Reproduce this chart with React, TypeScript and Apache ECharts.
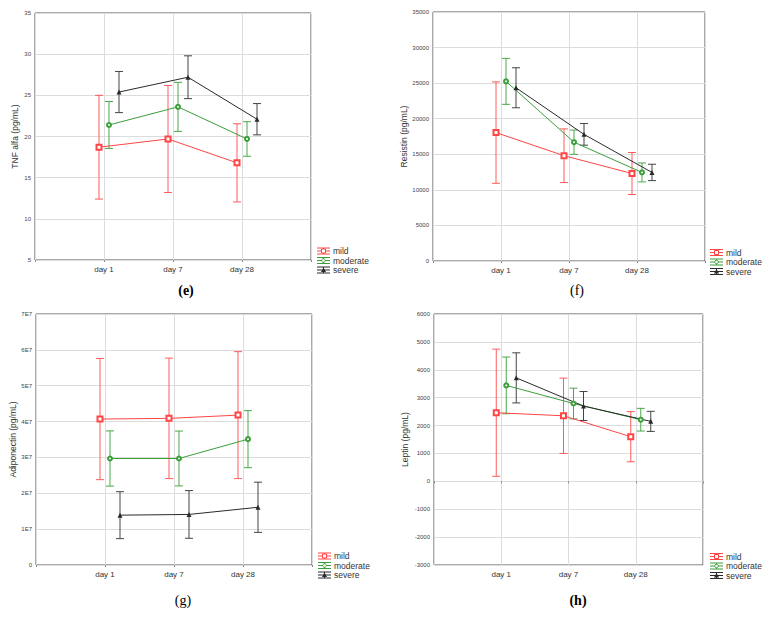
import React, { useEffect, useRef } from 'react';
import * as echarts from 'echarts';

const CATEGORIES = ['day 1', 'day 7', 'day 28'];
const GROUPS = ['mild', 'moderate', 'severe'];

// (e) TNF alfa
const TNF_MILD = [18.7, 19.7, 16.8];
const TNF_MILD_ERR = [6.3, 6.5, 4.75];
const TNF_MODERATE = [21.4, 23.6, 19.7];
const TNF_MODERATE_ERR = [2.85, 2.98, 2.1];
const TNF_SEVERE = [25.4, 27.2, 22.1];
const TNF_SEVERE_ERR = [2.5, 2.6, 1.9];

// (f) Resistin
const RES_MILD = [18050, 14800, 12300];
const RES_MILD_ERR = [7130, 3770, 2950];
const RES_MODERATE = [25250, 16700, 12450];
const RES_MODERATE_ERR = [3230, 1710, 1330];
const RES_SEVERE = [24350, 17800, 12450];
const RES_SEVERE_ERR = [2810, 1520, 1150];

// (g) Adiponectin
const ADI_MILD = [4.07e7, 4.09e7, 4.18e7];
const ADI_MILD_ERR = [1.69e7, 1.68e7, 1.77e7];
const ADI_MODERATE = [2.97e7, 2.97e7, 3.51e7];
const ADI_MODERATE_ERR = [0.77e7, 0.765e7, 0.795e7];
const ADI_SEVERE = [1.39e7, 1.41e7, 1.61e7];
const ADI_SEVERE_ERR = [0.655e7, 0.665e7, 0.7e7];

// (h) Leptin
const LEP_MILD = [2460, 2350, 1600];
const LEP_MILD_ERR = [2280, 1350, 900];
const LEP_MODERATE = [3440, 2790, 2210];
const LEP_MODERATE_ERR = [1017, 550, 407];
const LEP_SEVERE = [3710, 2700, 2150];
const LEP_SEVERE_ERR = [898, 520, 360];

const COLORS = ['#ff4545', '#3a9e3a', '#2a2a2a'];
const BAR_COLORS = ['#ff5c5c', '#4aa84a', '#444444'];
const SYMBOLS = ['emptyRect', 'emptyCircle', 'triangle'];
const SYMBOL_SIZES = [5, 4, 5];
const OFFSETS_PX = [-5, 5, 15];

const FONT = '"Liberation Sans", Arial, sans-serif';
const SERIF = '"Liberation Serif", "Times New Roman", serif';

const e7 = (v: number) => (v === 0 ? '0' : `${Math.round(v / 1e7)}E7`);

const PANELS = [
  {
    yName: 'TNF alfa (pg/mL)', min: 5, max: 35, interval: 5, fmt: (v: number) => String(v),
    means: [TNF_MILD, TNF_MODERATE, TNF_SEVERE], errs: [TNF_MILD_ERR, TNF_MODERATE_ERR, TNF_SEVERE_ERR],
    grid: { left: 35, top: 13, width: 276, height: 247 }, nameGap: 16,
    legend: { x: 317, y: 251 }, label: { text: '(e)', x: 186, y: 290, bold: true },
  },
  {
    yName: 'Resistin (pg/mL)', min: 0, max: 35000, interval: 5000, fmt: (v: number) => String(v),
    means: [RES_MILD, RES_MODERATE, RES_SEVERE], errs: [RES_MILD_ERR, RES_MODERATE_ERR, RES_SEVERE_ERR],
    grid: { left: 433, top: 12, width: 272, height: 249 }, nameGap: 25,
    legend: { x: 710, y: 252.5 }, label: { text: '(f)', x: 577, y: 290, bold: false },
  },
  {
    yName: 'Adiponectin (pg/mL)', min: 0, max: 7e7, interval: 1e7, fmt: e7,
    means: [ADI_MILD, ADI_MODERATE, ADI_SEVERE], errs: [ADI_MILD_ERR, ADI_MODERATE_ERR, ADI_SEVERE_ERR],
    grid: { left: 36, top: 314, width: 276, height: 251 }, nameGap: 18,
    legend: { x: 318, y: 556 }, label: { text: '(g)', x: 183, y: 600, bold: false },
  },
  {
    yName: 'Leptin (pg/mL)', min: -3000, max: 6000, interval: 1000, fmt: (v: number) => String(v),
    means: [LEP_MILD, LEP_MODERATE, LEP_SEVERE], errs: [LEP_MILD_ERR, LEP_MODERATE_ERR, LEP_SEVERE_ERR],
    grid: { left: 434, top: 314, width: 269, height: 251 }, nameGap: 25,
    legend: { x: 710, y: 556.5 }, label: { text: '(h)', x: 578, y: 600, bold: true },
  },
];

function buildOption() {
  const grids: any[] = [];
  const xAxes: any[] = [];
  const yAxes: any[] = [];
  const series: any[] = [];
  const graphic: any[] = [];

  PANELS.forEach((p, pi) => {
    grids.push({ ...p.grid, show: true, borderColor: '#555', borderWidth: 1, backgroundColor: '#fff' });
    xAxes.push({
      type: 'value', gridIndex: pi, min: 0, max: 4, interval: 1,
      axisLine: { show: false },
      axisTick: { show: true, length: 2, lineStyle: { color: '#888' } },
      splitLine: { show: true, lineStyle: { color: '#dcdcdc', width: 1 } },
      axisLabel: {
        fontSize: 8, color: '#333', fontFamily: FONT, margin: 5,
        formatter: (v: number) => (v >= 1 && v <= CATEGORIES.length ? CATEGORIES[v - 1] : ''),
      },
    });
    yAxes.push({
      type: 'value', gridIndex: pi, min: p.min, max: p.max, interval: p.interval,
      name: p.yName, nameLocation: 'middle', nameGap: p.nameGap,
      nameTextStyle: { fontSize: 8.5, color: '#333', fontFamily: FONT },
      axisLine: { show: false },
      axisTick: { show: false },
      splitLine: { show: true, lineStyle: { color: '#dcdcdc', width: 1 } },
      axisLabel: { fontSize: 6, color: '#444', fontFamily: FONT, margin: 4, formatter: p.fmt },
    });

    const pxPerUnit = p.grid.width / 4;
    GROUPS.forEach((g, gi) => {
      const dx = OFFSETS_PX[gi] / pxPerUnit;
      const mean = p.means[gi];
      const err = p.errs[gi];
      const barData = mean.map((m, i) => [i + 1 + dx, m - err[i], m + err[i]]);
      const lineData = mean.map((m, i) => [i + 1 + dx, m]);
      const barColor = BAR_COLORS[gi];
      series.push({
        type: 'custom', name: g, xAxisIndex: pi, yAxisIndex: pi,
        data: barData, encode: { x: 0, y: [1, 2] }, z: 2,
        renderItem: (params: any, api: any) => {
          const x = api.value(0);
          const a = api.coord([x, api.value(1)]);
          const b = api.coord([x, api.value(2)]);
          const style = { stroke: barColor, lineWidth: 1 };
          return {
            type: 'group',
            children: [
              { type: 'line', shape: { x1: a[0], y1: a[1], x2: b[0], y2: b[1] }, style },
              { type: 'line', shape: { x1: a[0] - 4, y1: a[1], x2: a[0] + 4, y2: a[1] }, style },
              { type: 'line', shape: { x1: b[0] - 4, y1: b[1], x2: b[0] + 4, y2: b[1] }, style },
            ],
          };
        },
      });
      series.push({
        type: 'line', name: g, xAxisIndex: pi, yAxisIndex: pi, data: lineData, z: 3,
        symbol: SYMBOLS[gi], symbolSize: SYMBOL_SIZES[gi], showAllSymbol: true,
        lineStyle: { color: COLORS[gi], width: 1 },
        itemStyle: { color: COLORS[gi], borderWidth: 0.8 },
      });
    });

    // legend
    GROUPS.forEach((g, gi) => {
      const y = p.legend.y + gi * 9.5;
      const x0 = p.legend.x;
      const c = COLORS[gi];
      const ls = { stroke: c, lineWidth: 1 };
      graphic.push(
        { type: 'line', shape: { x1: x0, y1: y - 3, x2: x0 + 13, y2: y - 3 }, style: ls },
        { type: 'line', shape: { x1: x0, y1: y, x2: x0 + 13, y2: y }, style: ls },
        { type: 'line', shape: { x1: x0, y1: y + 3, x2: x0 + 13, y2: y + 3 }, style: ls },
        { type: 'line', shape: { x1: x0 + 6.5, y1: y - 3, x2: x0 + 6.5, y2: y + 3 }, style: ls },
      );
      if (gi === 0) {
        graphic.push({ type: 'rect', shape: { x: x0 + 4.5, y: y - 2, width: 4, height: 4 }, style: { fill: '#fff', stroke: c, lineWidth: 1 } });
      } else if (gi === 1) {
        graphic.push({ type: 'circle', shape: { cx: x0 + 6.5, cy: y, r: 1.8 }, style: { fill: '#fff', stroke: c, lineWidth: 1 } });
      } else {
        graphic.push({ type: 'polygon', shape: { points: [[x0 + 6.5, y - 2.5], [x0 + 9, y + 2], [x0 + 4, y + 2]] }, style: { fill: c } });
      }
      graphic.push({
        type: 'text', x: x0 + 16, y, style: {
          text: g, fontSize: 8.5, fill: '#333', fontFamily: FONT, verticalAlign: 'middle', align: 'left',
        },
      });
    });

    graphic.push({
      type: 'text', x: p.label.x, y: p.label.y, style: {
        text: p.label.text, fontSize: 14, fontFamily: SERIF, fill: '#000',
        fontWeight: p.label.bold ? 'bold' : 'normal', align: 'center', verticalAlign: 'middle',
      },
    });
  });

  return {
    animation: false,
    backgroundColor: '#fff',
    grid: grids,
    xAxis: xAxes,
    yAxis: yAxes,
    series,
    graphic,
  };
}

export default function App() {
  const ref = useRef<HTMLDivElement>(null);
  useEffect(() => {
    document.body.style.margin = '0';
    if (!ref.current) return;
    const chart = echarts.init(ref.current, undefined, { renderer: 'svg' });
    chart.setOption(buildOption() as any);
    return () => chart.dispose();
  }, []);
  return <div ref={ref} style={{ width: 765, height: 617 }} />;
}
